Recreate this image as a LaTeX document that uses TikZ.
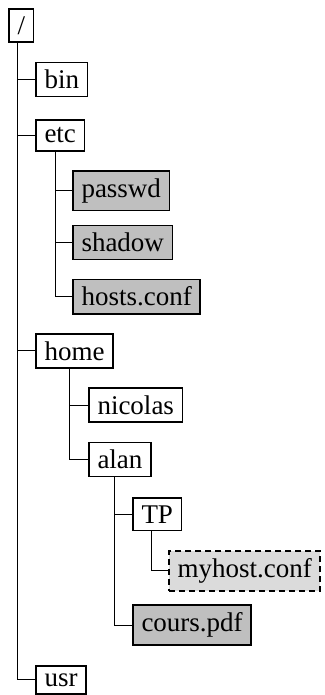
\documentclass[tikz,border=0pt]{standalone}
\usepackage{fontspec}
\setmainfont{Liberation Serif}
\begin{document}
\begin{tikzpicture}[x=1pt,y=-1pt,
  every node/.style={font=\fontsize{27pt}{32pt}\selectfont},
  entry/.style={draw=black, line width=1.6pt, inner xsep=8.5pt, inner ysep=7.5pt, outer sep=0pt, anchor=base west},
  dirbox/.style={entry, fill=white},
  filebox/.style={entry, fill=black!25},
  newbox/.style={entry, fill=black!14, dash pattern=on 6pt off 4pt},
  branch/.style={draw=black, line width=1pt}]
\useasboundingbox (0,0) rectangle (324,695);
\def\s{54.3}
\def\bz{34.4}
\node[dirbox]  (root)    at (9,   \bz+0*\s)  {/};
\node[dirbox]  (bin)     at (36,  \bz+1*\s)  {bin};
\node[dirbox]  (etc)     at (36,  \bz+2*\s)  {etc};
\node[filebox] (passwd)  at (73,  \bz+3*\s)  {passwd};
\node[filebox] (shadow)  at (73,  \bz+4*\s)  {shadow};
\node[filebox] (hosts)   at (73,  \bz+5*\s)  {hosts.conf};
\node[dirbox]  (home)    at (36,  \bz+6*\s)  {home};
\node[dirbox]  (nicolas) at (89,  \bz+7*\s)  {nicolas};
\node[dirbox]  (alan)    at (89,  \bz+8*\s)  {alan};
\node[dirbox]  (tp)      at (133, \bz+9*\s)  {TP};
\node[newbox]  (myhost)  at (169, \bz+10*\s) {myhost.conf};
\node[filebox] (cours)   at (133, \bz+11*\s) {cours.pdf};
\node[dirbox]  (usr)     at (36,  \bz+12*\s) {usr};
% trunks
\draw[branch] ([xshift=8pt]root.south west) |- (bin.west);
\draw[branch] ([xshift=8pt]root.south west) |- (etc.west);
\draw[branch] ([xshift=8pt]root.south west) |- (home.west);
\draw[branch] ([xshift=8pt]root.south west) |- (usr.west);
\draw[branch] ([xshift=19pt]etc.south west) |- (passwd.west);
\draw[branch] ([xshift=19pt]etc.south west) |- (shadow.west);
\draw[branch] ([xshift=19pt]etc.south west) |- (hosts.west);
\draw[branch] ([xshift=33pt]home.south west) |- (nicolas.west);
\draw[branch] ([xshift=33pt]home.south west) |- (alan.west);
\draw[branch] ([xshift=25pt]alan.south west) |- (tp.west);
\draw[branch] ([xshift=25pt]alan.south west) |- (cours.west);
\draw[branch] ([xshift=18pt]tp.south west) |- (myhost.west);
\end{tikzpicture}
\end{document}
